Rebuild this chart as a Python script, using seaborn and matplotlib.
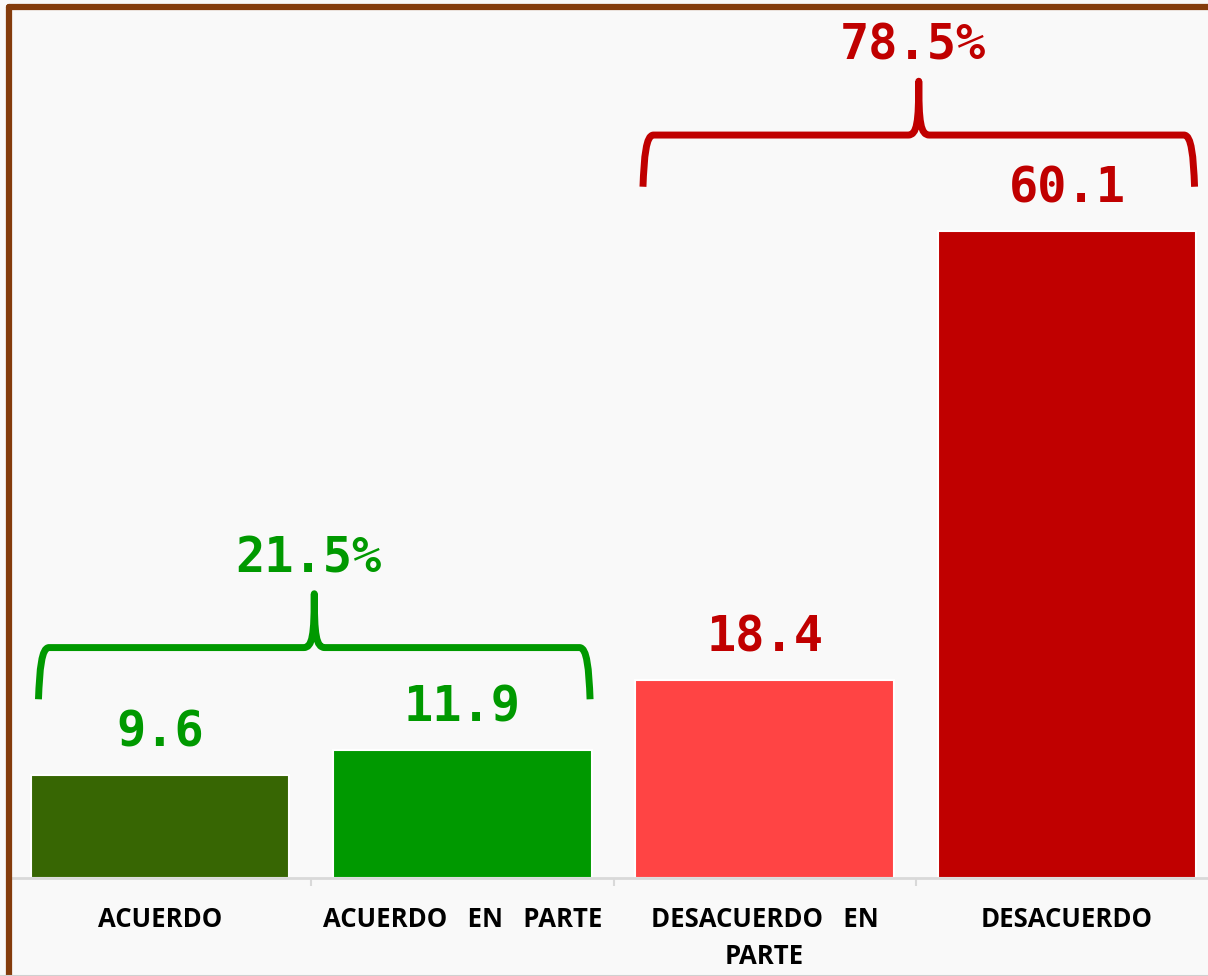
import matplotlib
matplotlib.use('Agg')
import matplotlib.pyplot as plt
import seaborn as sns
import numpy as np
from matplotlib.path import Path
from matplotlib.patches import PathPatch
from matplotlib.lines import Line2D

# Datos
categorias = ['ACUERDO', 'ACUERDO   EN   PARTE', 'DESACUERDO   EN\nPARTE', 'DESACUERDO']
valores = [9.6, 11.9, 18.4, 60.1]
colores = ['#376603', '#009900', '#ff4444', '#c00000']
grupos = [(0, 1), (2, 3)]
totales = ['21.5%', '78.5%']
colores_grupo = ['#009900', '#c00000']

BG = '#f9f9f9'
BAR_W = 0.855

sns.set_theme(style='white')
plt.rcParams['font.family'] = ['DejaVu Sans']

fig = plt.figure(figsize=(12.08, 9.76), dpi=100, facecolor=BG)
ax = fig.add_axes([9 / 1208, 98 / 976, 1209 / 1208, 870 / 976])
ax.set_facecolor(BG)

sns.barplot(x=categorias, y=valores, hue=categorias, palette=colores,
            width=BAR_W, edgecolor='white', linewidth=1.5, legend=False,
            saturation=1, ax=ax)

ax.set_xlim(-0.5, 3.5)
ax.set_ylim(0, 80.8)
ax.set_yticks([])
ax.set_ylabel('')

# Ejes
for s in ['top', 'left', 'right']:
    ax.spines[s].set_visible(False)
ax.spines['bottom'].set_color('#d9d9d9')
ax.spines['bottom'].set_linewidth(2)

ax.set_xticks(range(len(categorias)))
ax.set_xticklabels(categorias)
for lbl in ax.get_xticklabels():
    lbl.set_fontfamily('Open Sans')
    lbl.set_fontweight('bold')
    lbl.set_fontsize(18.5)
    lbl.set_color('black')
    lbl.set_linespacing(1.5)
ax.tick_params(axis='x', which='major', length=0, pad=20)
ax.set_xticks(np.arange(0.5, len(categorias) - 1, 1), minor=True)
ax.tick_params(axis='x', which='minor', length=6, width=1.5, color='#d9d9d9',
               bottom=True)

# Etiquetas de valor
for i, v in enumerate(valores):
    col = colores_grupo[0] if i in grupos[0] else colores_grupo[1]
    ax.text(i, v + 3.9, f'{v:.1f}', ha='center', va='center', fontsize=35,
            fontweight='bold', family='DejaVu Sans Mono', color=col)


def llave(ax, x0, x1, y_arm, y_bar, y_tip, color):
    xc = (x0 + x1) / 2
    verts = [
        (x0, y_arm),
        (x0 + 0.004, y_bar - 2.0), (x0 + 0.01, y_bar), (x0 + 0.035, y_bar),
        (xc - 0.035, y_bar),
        (xc - 0.006, y_bar), (xc, y_bar + 1.2), (xc, y_tip),
        (xc, y_bar + 1.2), (xc + 0.006, y_bar), (xc + 0.035, y_bar),
        (x1 - 0.035, y_bar),
        (x1 - 0.01, y_bar), (x1 - 0.004, y_bar - 2.0), (x1, y_arm),
    ]
    codes = ([Path.MOVETO] + [Path.CURVE4] * 3 + [Path.LINETO] +
             [Path.CURVE4] * 6 + [Path.LINETO] + [Path.CURVE4] * 3)
    ax.add_patch(PathPatch(Path(verts, codes), fill=False, edgecolor=color,
                           linewidth=5, capstyle='butt', joinstyle='round'))


for (a, b), txt, col in zip(grupos, totales, colores_grupo):
    top = max(valores[a], valores[b])
    off = 4.4 + 0.3 * (1 if top < 30 else -1)
    x0 = a - BAR_W / 2 + 0.025
    x1 = b + BAR_W / 2 - 0.005
    llave(ax, x0, x1, top + off, top + off + 4.8, top + off + 9.8, col)
    ax.text((x0 + x1) / 2 - 0.02, top + off + 13.1, txt, ha='center', va='center',
            fontsize=35, fontweight='bold', family='DejaVu Sans Mono', color=col)

# Marco
fig.add_artist(Line2D([9 / 1208, 9 / 1208], [-0.1, 1 - 7 / 976],
                      transform=fig.transFigure, color='#843c0c', linewidth=4.5,
                      solid_joinstyle='round'))
fig.add_artist(Line2D([9 / 1208, 1.1], [1 - 7 / 976, 1 - 7 / 976],
                      transform=fig.transFigure, color='#843c0c', linewidth=4.5))
fig.add_artist(Line2D([0, 1], [0.5 / 976, 0.5 / 976], transform=fig.transFigure,
                      color='#d0d0d0', linewidth=1.5))

fig.savefig('out.png', dpi=100, facecolor=BG)
